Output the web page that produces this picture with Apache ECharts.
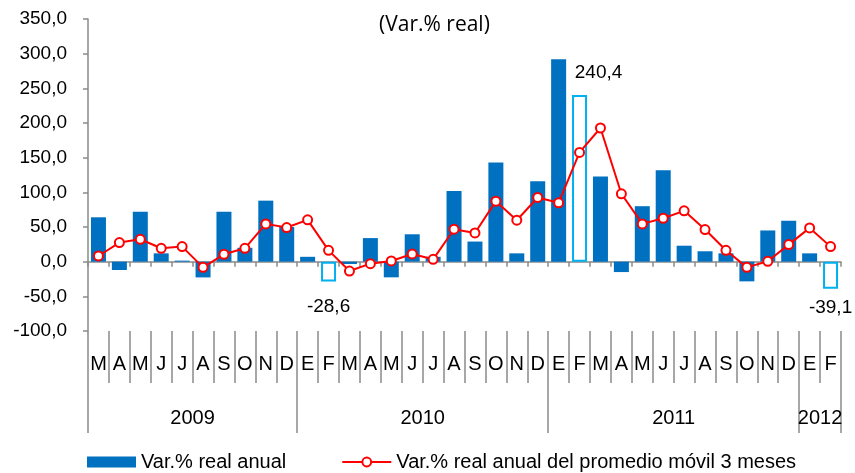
<!DOCTYPE html>
<html>
<head>
<meta charset="utf-8">
<script src="https://cdn.jsdelivr.net/npm/echarts@6/dist/echarts.min.js"></script>
<style>html,body{margin:0;padding:0;background:#fff}#c{width:855px;height:473px}</style>
</head>
<body>
<div id="c"></div>
<script>
const months = ['M','A','M','J','J','A','S','O','N','D','E','F','M','A','M','J','J','A','S','O','N','D','E','F','M','A','M','J','J','A','S','O','N','D','E','F'];
const years = ['2009','2010','2011','2012'];
const monthsPerYear = [10, 12, 12, 2];
const barValues = [64, -12, 72, 12, 1.5, -22.7, 72, 20, 88, 50, 7, -28.6, -3.4, 34, -22.6, 39.5, 7, 102, 29, 143, 12, 116, 292, 240.4, 123, -15, 80, 132, 23, 15, 12, -28.4, 45, 59, 12, -39.1];
const lineValues = [8.2, 27.5, 32.3, 19.3, 21.7, -8.2, 10.6, 19.3, 54.5, 49.2, 60.3, 16.3, -13.5, -2.9, 1, 11.1, 3.4, 46.8, 41.4, 87.3, 59.8, 92.6, 84.9, 157.6, 192.8, 97.9, 54.5, 62.6, 73.3, 46.3, 16.4, -8.2, 0.5, 24.6, 48.7, 21.7];
const highlighted = [11, 23, 35];
const seriesNames = ['Var.% real anual', 'Var.% real anual del promedio móvil 3 meses'];
const subtitle = '(Var.% real)';

const fmt = v => v.toFixed(1).replace('.', ',');
const FONT = '"Liberation Sans", Arial, sans-serif';
const GRAY = '#8a8a8a';

// year boundaries and label positions (boundary-based axis with 37 points)
const boundaryPoints = Array.from({length: months.length + 1}, (_, i) => String(i));
const yearStarts = [];
const yearLabelAt = {};
let acc = 0;
monthsPerYear.forEach((n, k) => { yearStarts.push(acc); yearLabelAt[acc + n / 2] = years[k]; acc += n; });
yearStarts.push(acc);

const labelTweaks = {
  11: {distance: 16, offset: [0, 0]},
  23: {distance: 5, offset: [19, -8]},
  35: {distance: 9, offset: [0, 0]}
};

const barData = barValues.map((v, i) => {
  if (highlighted.indexOf(i) < 0) return v;
  const t = labelTweaks[i];
  return {
    value: v,
    itemStyle: {color: '#ffffff', borderColor: '#00B0F0', borderWidth: 2},
    label: {show: true, position: 'outside', distance: t.distance, offset: t.offset,
      formatter: p => fmt(p.value), fontFamily: FONT, fontSize: 19, color: '#000'}
  };
});

const chart = echarts.init(document.getElementById('c'), null, {renderer: 'canvas'});
chart.setOption({
  animation: false,
  backgroundColor: '#fff',
  title: {
    text: subtitle, left: 374, top: 10,
    textStyle: {fontFamily: '"Open Sans", Lato, sans-serif', fontSize: 21, fontWeight: 'normal', color: '#000'}
  },
  grid: {left: 88, right: 14, top: 19, bottom: 142, containLabel: false},
  legend: {
    left: 87, top: 452, padding: 0, itemWidth: 49, itemHeight: 11, itemGap: 55,
    textStyle: {fontFamily: FONT, fontSize: 20, color: '#000'},
    data: [{name: seriesNames[0], icon: 'rect'}, {name: seriesNames[1]}]
  },
  xAxis: [
    {
      type: 'category', data: months, position: 'bottom',
      axisLine: {onZero: true, lineStyle: {color: GRAY, width: 1.5}},
      axisTick: {show: true, length: 5, lineStyle: {color: GRAY, width: 1.5}},
      axisLabel: {show: false}
    },
    {
      type: 'category', data: months, position: 'bottom',
      axisLine: {show: false, onZero: false},
      axisTick: {show: true, length: 52, lineStyle: {color: GRAY, width: 1.5}},
      axisLabel: {show: true, interval: 0, margin: 23, fontFamily: FONT, fontSize: 20, color: '#000'}
    },
    {
      type: 'category', data: boundaryPoints, boundaryGap: false, position: 'bottom',
      axisLine: {show: false, onZero: false},
      axisTick: {show: true, length: 102, interval: (idx) => yearStarts.indexOf(idx) >= 0,
        lineStyle: {color: GRAY, width: 1.5}},
      axisLabel: {show: true, interval: (idx) => yearLabelAt[idx] !== undefined,
        formatter: (v) => yearLabelAt[Number(v)] || '', margin: 77,
        fontFamily: FONT, fontSize: 20, color: '#000'}
    }
  ],
  yAxis: {
    type: 'value', min: -100, max: 350, interval: 50,
    splitLine: {show: false},
    axisLine: {show: true, lineStyle: {color: GRAY, width: 1.5}},
    axisTick: {show: true, length: 5, lineStyle: {color: GRAY, width: 1.5}},
    axisLabel: {formatter: v => fmt(v), fontFamily: FONT, fontSize: 19, color: '#000', margin: 21}
  },
  series: [
    {
      name: seriesNames[0], type: 'bar', xAxisIndex: 0, data: barData,
      barWidth: 15,
      itemStyle: {color: '#0070C0'}
    },
    {
      name: seriesNames[1], type: 'line', xAxisIndex: 0, data: lineValues,
      symbol: 'circle', symbolSize: 9,
      lineStyle: {color: '#FF0000', width: 2},
      itemStyle: {color: '#ffffff', borderColor: '#FF0000', borderWidth: 2}
    }
  ]
});
</script>
</body>
</html>
